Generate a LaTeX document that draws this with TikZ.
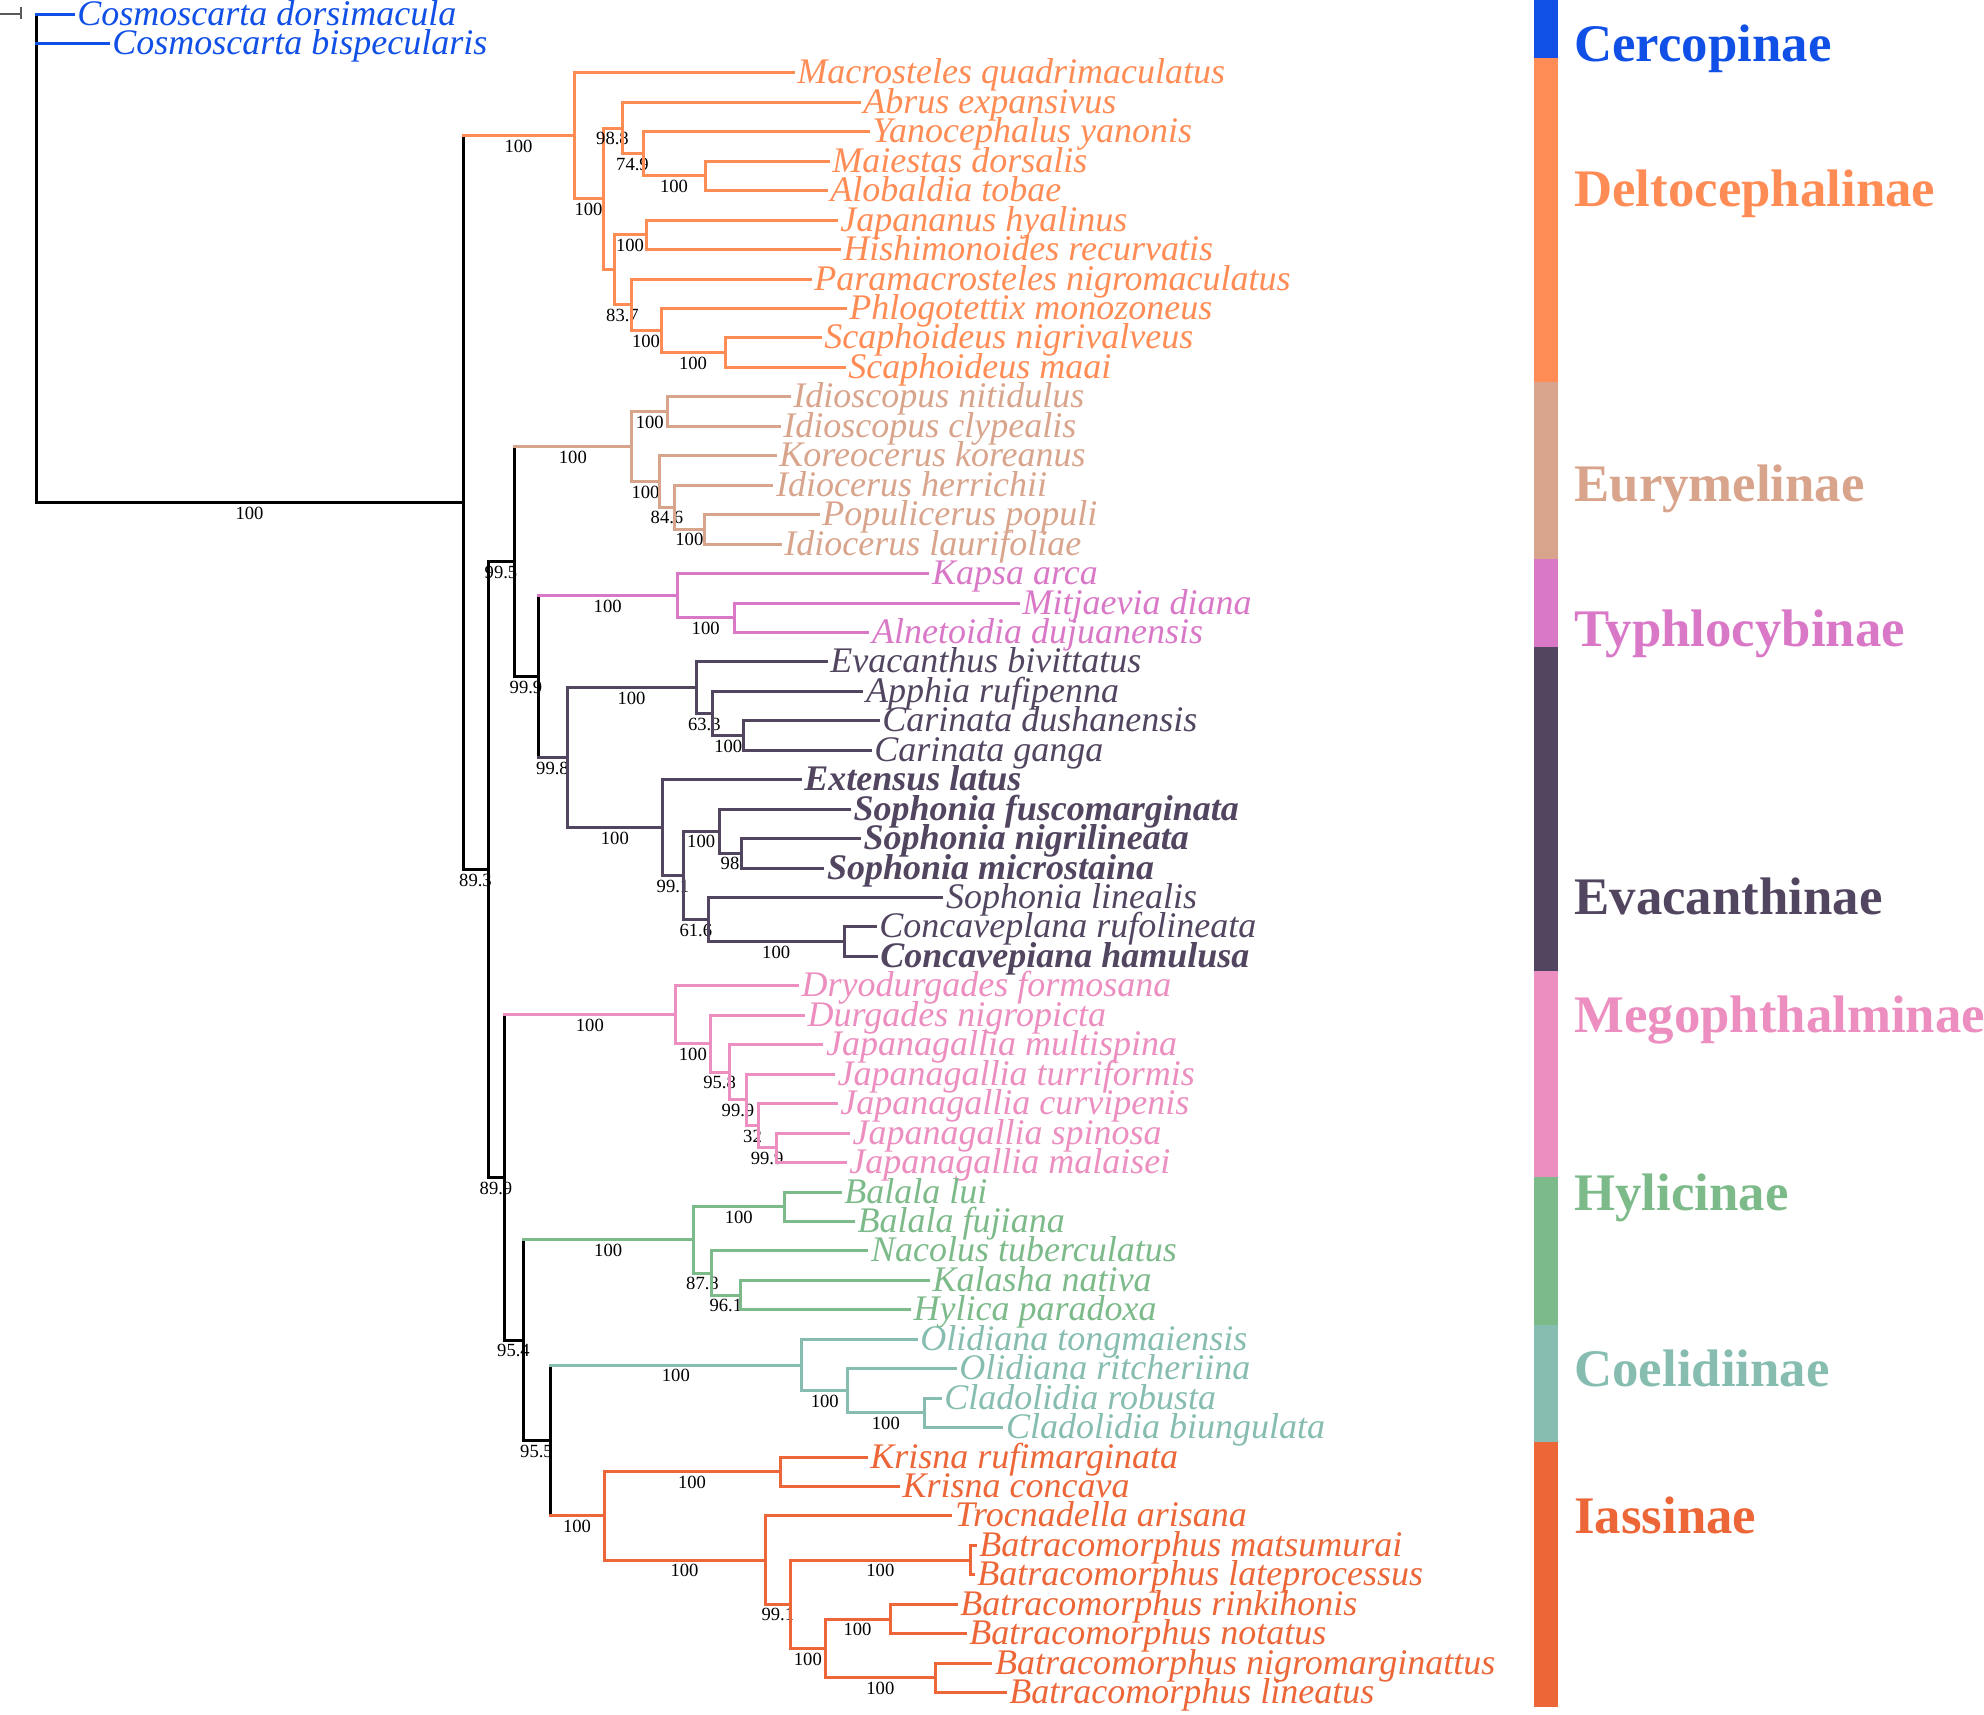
\documentclass[tikz,border=0pt]{standalone}
\usepackage{fontspec}
\setmainfont{Liberation Serif}

\definecolor{cCerc}{RGB}{17,80,230}
\definecolor{cDelto}{RGB}{255,140,85}
\definecolor{cEury}{RGB}{217,164,140}
\definecolor{cTyph}{RGB}{218,120,200}
\definecolor{cEvac}{RGB}{82,69,96}
\definecolor{cMego}{RGB}{236,142,191}
\definecolor{cHyli}{RGB}{125,186,138}
\definecolor{cCoel}{RGB}{134,189,176}
\definecolor{cIass}{RGB}{236,102,56}

\begin{document}
\begin{tikzpicture}[x=0.5pt, y=-14.725pt,
  br/.style={line width=1.5pt, line cap=rect},
  sup/.style={anchor=base, yshift=-8.3pt, inner sep=0pt, text=black, font=\fontsize{9.3pt}{9.3pt}\selectfont},
  taxon/.style={anchor=base west, xshift=2pt, yshift=-5.5pt, inner sep=0pt, font=\fontsize{18pt}{18pt}\selectfont\itshape},
  taxonb/.style={taxon, font=\fontsize{18pt}{18pt}\selectfont\bfseries\itshape},
  family/.style={anchor=base west, inner sep=0pt, font=\fontsize{26.4pt}{26.4pt}\selectfont\bfseries}]
        \useasboundingbox (0,-0.4754) rectangle (1984,57.725);
        % Root stub
        \draw[black!65, line width=1pt] (0,0) -- (20.7,0);
        \draw[black!65, line width=1pt] (20.7,-0.23) -- (20.7,0.18);
        % Backbone nodes
        \coordinate (root) at (36,8.298);
        \coordinate (ing) at (463,16.596);
        \coordinate (n893) at (488,29.051);
        \coordinate (n995) at (514,18.594);
        \coordinate (n999) at (538,22.5);
        \coordinate (n998) at (567,25.25);
        \coordinate (n899) at (504,39.508);
        \coordinate (n954) at (523,45.031);
        \coordinate (n955) at (550,48.438);
        % Deltocephalinae nodes
        \coordinate (dt) at (574,4.141);
        \coordinate (dx) at (603,6.281);
        \coordinate (da) at (622,3.875);
        \coordinate (dy) at (643,4.75);
        \coordinate (dm) at (705,5.5);
        \coordinate (db) at (614,8.688);
        \coordinate (dj) at (646,7.5);
        \coordinate (dp) at (631,9.875);
        \coordinate (df) at (661,10.75);
        \coordinate (ds) at (725,11.5);
        % Eurymelinae nodes
        \coordinate (eu) at (631.7,14.688);
        \coordinate (en) at (667.7,13.5);
        \coordinate (ek) at (659.3,15.875);
        \coordinate (eh) at (674.7,16.75);
        \coordinate (ep) at (704,17.5);
        % Typhlocybinae nodes
        \coordinate (ty) at (677.3,19.75);
        \coordinate (tm) at (734,20.5);
        % Evacanthinae nodes
        \coordinate (va) at (696,22.875);
        \coordinate (vap) at (712.7,23.75);
        \coordinate (vc) at (743.7,24.5);
        \coordinate (vb) at (662.7,27.625);
        \coordinate (v991) at (683.3,29.25);
        \coordinate (vf) at (719,27.75);
        \coordinate (vn) at (741,28.5);
        \coordinate (vl) at (708.3,30.75);
        \coordinate (vr) at (844,31.5);
        % Megophthalminae nodes
        \coordinate (me) at (675.7,33.984);
        \coordinate (md) at (710,34.969);
        \coordinate (mm) at (729.3,35.938);
        \coordinate (mt) at (746.7,36.875);
        \coordinate (mc) at (758.3,37.75);
        \coordinate (ms) at (776,38.5);
        % Hylicinae nodes
        \coordinate (hy) at (693.3,41.625);
        \coordinate (hb) at (784.3,40.5);
        \coordinate (hn) at (711.7,42.75);
        \coordinate (hk) at (740,43.5);
        % Coelidiinae nodes
        \coordinate (co) at (801.7,45.875);
        \coordinate (co2) at (847.7,46.75);
        \coordinate (cc) at (924,47.5);
        % Iassinae nodes
        \coordinate (ia) at (604,51);
        \coordinate (ik) at (780,49.5);
        \coordinate (it) at (765,52.5);
        \coordinate (i991) at (790.7,54);
        \coordinate (im) at (970,52.5);
        \coordinate (i100) at (825,55.5);
        \coordinate (ir) at (890,54.5);
        \coordinate (in2) at (935.7,56.5);

        % Tips and names
        \coordinate (cdor) at (73,0); \node[taxon,cCerc] (cdor-t) at (cdor) {Cosmoscarta dorsimacula};
        \coordinate (cbis) at (108,1); \node[taxon,cCerc] (cbis-t) at (cbis) {Cosmoscarta bispecularis};
        \coordinate (mqua) at (793,2); \node[taxon,cDelto] (mqua-t) at (mqua) {Macrosteles quadrimaculatus};
        \coordinate (aexp) at (859,3); \node[taxon,cDelto] (aexp-t) at (aexp) {Abrus expansivus};
        \coordinate (yyan) at (868,4); \node[taxon,cDelto] (yyan-t) at (yyan) {Yanocephalus yanonis};
        \coordinate (mdor) at (828,5); \node[taxon,cDelto] (mdor-t) at (mdor) {Maiestas dorsalis};
        \coordinate (atob) at (826,6); \node[taxon,cDelto] (atob-t) at (atob) {Alobaldia tobae};
        \coordinate (jhya) at (836,7); \node[taxon,cDelto] (jhya-t) at (jhya) {Japananus hyalinus};
        \coordinate (hrec) at (839,8); \node[taxon,cDelto] (hrec-t) at (hrec) {Hishimonoides recurvatis};
        \coordinate (pnig) at (810,9); \node[taxon,cDelto] (pnig-t) at (pnig) {Paramacrosteles nigromaculatus};
        \coordinate (pmon) at (845,10); \node[taxon,cDelto] (pmon-t) at (pmon) {Phlogotettix monozoneus};
        \coordinate (snig) at (820,11); \node[taxon,cDelto] (snig-t) at (snig) {Scaphoideus nigrivalveus};
        \coordinate (smaa) at (844,12); \node[taxon,cDelto] (smaa-t) at (smaa) {Scaphoideus maai};
        \coordinate (init) at (789,13); \node[taxon,cEury] (init-t) at (init) {Idioscopus nitidulus};
        \coordinate (icly) at (779,14); \node[taxon,cEury] (icly-t) at (icly) {Idioscopus clypealis};
        \coordinate (kkor) at (775,15); \node[taxon,cEury] (kkor-t) at (kkor) {Koreocerus koreanus};
        \coordinate (iher) at (771.7,16); \node[taxon,cEury] (iher-t) at (iher) {Idiocerus herrichii};
        \coordinate (ppop) at (818,17); \node[taxon,cEury] (ppop-t) at (ppop) {Populicerus populi};
        \coordinate (ilau) at (780,18); \node[taxon,cEury] (ilau-t) at (ilau) {Idiocerus laurifoliae};
        \coordinate (kapsa) at (927.7,19); \node[taxon,cTyph] (kapsa-t) at (kapsa) {Kapsa arca};
        \coordinate (mdia) at (1018.3,20); \node[taxon,cTyph] (mdia-t) at (mdia) {Mitjaevia diana};
        \coordinate (aduj) at (867.7,21); \node[taxon,cTyph] (aduj-t) at (aduj) {Alnetoidia dujuanensis};
        \coordinate (eviv) at (826,22); \node[taxon,cEvac] (eviv-t) at (eviv) {Evacanthus bivittatus};
        \coordinate (aruf) at (861.7,23); \node[taxon,cEvac] (aruf-t) at (aruf) {Apphia rufipenna};
        \coordinate (cdus) at (878,24); \node[taxon,cEvac] (cdus-t) at (cdus) {Carinata dushanensis};
        \coordinate (cgan) at (870,25); \node[taxon,cEvac] (cgan-t) at (cgan) {Carinata ganga};
        \coordinate (elat) at (800,26); \node[taxonb,cEvac] (elat-t) at (elat) {Extensus latus};
        \coordinate (sfus) at (849.3,27); \node[taxonb,cEvac] (sfus-t) at (sfus) {Sophonia fuscomarginata};
        \coordinate (snil) at (859.3,28); \node[taxonb,cEvac] (snil-t) at (snil) {Sophonia nigrilineata};
        \coordinate (smic) at (822.7,29); \node[taxonb,cEvac] (smic-t) at (smic) {Sophonia microstaina};
        \coordinate (slin) at (941.7,30); \node[taxon,cEvac] (slin-t) at (slin) {Sophonia linealis};
        \coordinate (cruf) at (875,31); \node[taxon,cEvac] (cruf-t) at (cruf) {Concaveplana rufolineata};
        \coordinate (cham) at (876,32); \node[taxonb,cEvac] (cham-t) at (cham) {Concavepiana hamulusa};
        \coordinate (dfor) at (797.3,33); \node[taxon,cMego] (dfor-t) at (dfor) {Dryodurgades formosana};
        \coordinate (dnig) at (803.3,34); \node[taxon,cMego] (dnig-t) at (dnig) {Durgades nigropicta};
        \coordinate (jmul) at (821.7,35); \node[taxon,cMego] (jmul-t) at (jmul) {Japanagallia multispina};
        \coordinate (jtur) at (833.3,36); \node[taxon,cMego] (jtur-t) at (jtur) {Japanagallia turriformis};
        \coordinate (jcur) at (836,37); \node[taxon,cMego] (jcur-t) at (jcur) {Japanagallia curvipenis};
        \coordinate (jspi) at (848.3,38); \node[taxon,cMego] (jspi-t) at (jspi) {Japanagallia spinosa};
        \coordinate (jmal) at (845,39); \node[taxon,cMego] (jmal-t) at (jmal) {Japanagallia malaisei};
        \coordinate (blui) at (840,40); \node[taxon,cHyli] (blui-t) at (blui) {Balala lui};
        \coordinate (bfuj) at (853.3,41); \node[taxon,cHyli] (bfuj-t) at (bfuj) {Balala fujiana};
        \coordinate (ntub) at (866.7,42); \node[taxon,cHyli] (ntub-t) at (ntub) {Nacolus tuberculatus};
        \coordinate (knat) at (928.3,43); \node[taxon,cHyli] (knat-t) at (knat) {Kalasha nativa};
        \coordinate (hpar) at (909.3,44); \node[taxon,cHyli] (hpar-t) at (hpar) {Hylica paradoxa};
        \coordinate (oton) at (916,45); \node[taxon,cCoel] (oton-t) at (oton) {Olidiana tongmaiensis};
        \coordinate (orit) at (955,46); \node[taxon,cCoel] (orit-t) at (orit) {Olidiana ritcheriina};
        \coordinate (crob) at (940,47); \node[taxon,cCoel] (crob-t) at (crob) {Cladolidia robusta};
        \coordinate (cbiu) at (1001.7,48); \node[taxon,cCoel] (cbiu-t) at (cbiu) {Cladolidia biungulata};
        \coordinate (kruf) at (866,49); \node[taxon,cIass] (kruf-t) at (kruf) {Krisna rufimarginata};
        \coordinate (kcon) at (898.3,50); \node[taxon,cIass] (kcon-t) at (kcon) {Krisna concava};
        \coordinate (tari) at (950.7,51); \node[taxon,cIass] (tari-t) at (tari) {Trocnadella arisana};
        \coordinate (bmat) at (975,52); \node[taxon,cIass] (bmat-t) at (bmat) {Batracomorphus matsumurai};
        \coordinate (blat) at (973,53); \node[taxon,cIass] (blat-t) at (blat) {Batracomorphus lateprocessus};
        \coordinate (brin) at (956,54); \node[taxon,cIass] (brin-t) at (brin) {Batracomorphus rinkihonis};
        \coordinate (bnot) at (965,55); \node[taxon,cIass] (bnot-t) at (bnot) {Batracomorphus notatus};
        \coordinate (bnig) at (990.7,56); \node[taxon,cIass] (bnig-t) at (bnig) {Batracomorphus nigromarginattus};
        \coordinate (blin) at (1005,57); \node[taxon,cIass] (blin-t) at (blin) {Batracomorphus lineatus};

        % Backbone branches
        \draw[br] (root |- cdor) -- (root |- ing) -- node[sup]{100} (ing);
        \draw[br,cCerc] (root |- cdor) -- (cdor);
        \draw[br,cCerc] (root |- cbis) -- (cbis);
        \draw[br] (ing |- dt) |- node[sup,pos=.75]{89.3} (n893);
        \draw[br] (n995) -| node[sup,pos=.25]{99.5} (n893) |- node[sup,pos=.75]{89.9} (n899);
        \draw[br] (n995 |- eu) |- node[sup,pos=.75]{99.9} (n999);
        \draw[br] (n999 |- ty) -- (n999 |- n998);
        \draw[br] (n899 |- me) |- node[sup,pos=.75]{95.4} (n954);
        \draw[br] (n954 |- hy) |- node[sup,pos=.75]{95.5} (n955);
        \draw[br] (n955 |- co) -- (n955 |- ia);
        % Clade stems
        \draw[br,cDelto] (ing |- dt) -- node[sup]{100} (dt);
        \draw[br,cEury] (n995 |- eu) -- node[sup]{100} (eu);
        \draw[br,cTyph] (n999 |- ty) -- node[sup]{100} (ty);
        \draw[br,cEvac] (n999 |- n998) -- node[sup]{99.8} (n998);
        \draw[br,cMego] (n899 |- me) -- node[sup]{100} (me);
        \draw[br,cHyli] (n954 |- hy) -- node[sup]{100} (hy);
        \draw[br,cCoel] (n955 |- co) -- node[sup]{100} (co);
        \draw[br,cIass] (n955 |- ia) -- node[sup]{100} (ia);

        % Deltocephalinae
        \draw[br,cDelto] (mqua) -| (dt) |- node[sup,pos=.75]{100} (dx);
        \draw[br,cDelto] (da) -| node[sup,pos=.25]{98.8} (dx) |- (db);
        \draw[br,cDelto] (aexp) -| (da) |- node[sup,pos=.75]{74.9} (dy);
        \draw[br,cDelto] (yyan) -| (dy) |- node[sup,pos=.75]{100} (dm);
        \draw[br,cDelto] (mdor) -| (dm) |- (atob);
        \draw[br,cDelto] (dj) -| node[sup,pos=.25]{100} (db) |- node[sup,pos=.75]{83.7} (dp);
        \draw[br,cDelto] (jhya) -| (dj) |- (hrec);
        \draw[br,cDelto] (pnig) -| (dp) |- node[sup,pos=.75]{100} (df);
        \draw[br,cDelto] (pmon) -| (df) |- node[sup,pos=.75]{100} (ds);
        \draw[br,cDelto] (snig) -| (ds) |- (smaa);
        % Eurymelinae
        \draw[br,cEury] (en) -| node[sup,pos=.25]{100} (eu) |- node[sup,pos=.75]{100} (ek);
        \draw[br,cEury] (init) -| (en) |- (icly);
        \draw[br,cEury] (kkor) -| (ek) |- node[sup,pos=.75]{84.6} (eh);
        \draw[br,cEury] (iher) -| (eh) |- node[sup,pos=.75]{100} (ep);
        \draw[br,cEury] (ppop) -| (ep) |- (ilau);
        % Typhlocybinae
        \draw[br,cTyph] (kapsa) -| (ty) |- node[sup,pos=.75]{100} (tm);
        \draw[br,cTyph] (mdia) -| (tm) |- (aduj);
        % Evacanthinae
        \draw[br,cEvac] (va) -| node[sup,pos=.25]{100} (n998) |- node[sup,pos=.75]{100} (vb);
        \draw[br,cEvac] (eviv) -| (va) |- node[sup,pos=.75]{63.3} (vap);
        \draw[br,cEvac] (aruf) -| (vap) |- node[sup,pos=.75]{100} (vc);
        \draw[br,cEvac] (cdus) -| (vc) |- (cgan);
        \draw[br,cEvac] (elat) -| (vb) |- node[sup,pos=.75]{99.1} (v991);
        \draw[br,cEvac] (vf) -| node[sup,pos=.25]{100} (v991) |- node[sup,pos=.75]{61.6} (vl);
        \draw[br,cEvac] (sfus) -| (vf) |- node[sup,pos=.75]{98} (vn);
        \draw[br,cEvac] (snil) -| (vn) |- (smic);
        \draw[br,cEvac] (slin) -| (vl) |- node[sup,pos=.75]{100} (vr);
        \draw[br,cEvac] (cruf) -| (vr) |- (cham);
        % Megophthalminae
        \draw[br,cMego] (dfor) -| (me) |- node[sup,pos=.75]{100} (md);
        \draw[br,cMego] (dnig) -| (md) |- node[sup,pos=.75]{95.8} (mm);
        \draw[br,cMego] (jmul) -| (mm) |- node[sup,pos=.75]{99.9} (mt);
        \draw[br,cMego] (jtur) -| (mt) |- node[sup,pos=.75]{32} (mc);
        \draw[br,cMego] (jcur) -| (mc) |- node[sup,pos=.75]{99.9} (ms);
        \draw[br,cMego] (jspi) -| (ms) |- (jmal);
        % Hylicinae
        \draw[br,cHyli] (hb) -| node[sup,pos=.25]{100} (hy) |- node[sup,pos=.75]{87.8} (hn);
        \draw[br,cHyli] (blui) -| (hb) |- (bfuj);
        \draw[br,cHyli] (ntub) -| (hn) |- node[sup,pos=.75]{96.1} (hk);
        \draw[br,cHyli] (knat) -| (hk) |- (hpar);
        % Coelidiinae
        \draw[br,cCoel] (oton) -| (co) |- node[sup,pos=.75]{100} (co2);
        \draw[br,cCoel] (orit) -| (co2) |- node[sup,pos=.75]{100} (cc);
        \draw[br,cCoel] (crob) -| (cc) |- (cbiu);
        % Iassinae
        \draw[br,cIass] (ik) -| node[sup,pos=.25]{100} (ia) |- node[sup,pos=.75]{100} (it);
        \draw[br,cIass] (kruf) -| (ik) |- (kcon);
        \draw[br,cIass] (tari) -| (it) |- node[sup,pos=.75]{99.1} (i991);
        \draw[br,cIass] (im) -| node[sup,pos=.25]{100} (i991) |- node[sup,pos=.75]{100} (i100);
        \draw[br,cIass] (bmat) -| (im) |- (blat);
        \draw[br,cIass] (ir) -| node[sup,pos=.25]{100} (i100) |- node[sup,pos=.75]{100} (in2);
        \draw[br,cIass] (brin) -| (ir) |- (bnot);
        \draw[br,cIass] (bnig) -| (in2) |- (blin);

        % Subfamily bar
        \fill[cCerc] (1533.5,-0.4754) rectangle (1557.6,1.5);
        \fill[cDelto] (1533.5,1.5) rectangle (1557.6,12.5);
        \fill[cEury] (1533.5,12.5) rectangle (1557.6,18.5);
        \fill[cTyph] (1533.5,18.5) rectangle (1557.6,21.5);
        \fill[cEvac] (1533.5,21.5) rectangle (1557.6,32.5);
        \fill[cMego] (1533.5,32.5) rectangle (1557.6,39.5);
        \fill[cHyli] (1533.5,39.5) rectangle (1557.6,44.5);
        \fill[cCoel] (1533.5,44.5) rectangle (1557.6,48.5);
        \fill[cIass] (1533.5,48.5) rectangle (1557.6,57.5);
        % Subfamily names
        \node[family,cCerc] (fCerc) at (1574,1.596) {Cercopinae};
        \node[family,cDelto] (fDelto) at (1574,6.553) {Deltocephalinae};
        \node[family,cEury] (fEury) at (1574,16.54) {Eurymelinae};
        \node[family,cTyph] (fTyph) at (1574,21.49) {Typhlocybinae};
        \node[family,cEvac] (fEvac) at (1574,30.59) {Evacanthinae};
        \node[family,cMego] (fMego) at (1574,34.57) {Megophthalminae};
        \node[family,cHyli] (fHyli) at (1574,40.64) {Hylicinae};
        \node[family,cCoel] (fCoel) at (1574,46.59) {Coelidiinae};
        \node[family,cIass] (fIass) at (1574,51.58) {Iassinae};
\end{tikzpicture}
\end{document}
